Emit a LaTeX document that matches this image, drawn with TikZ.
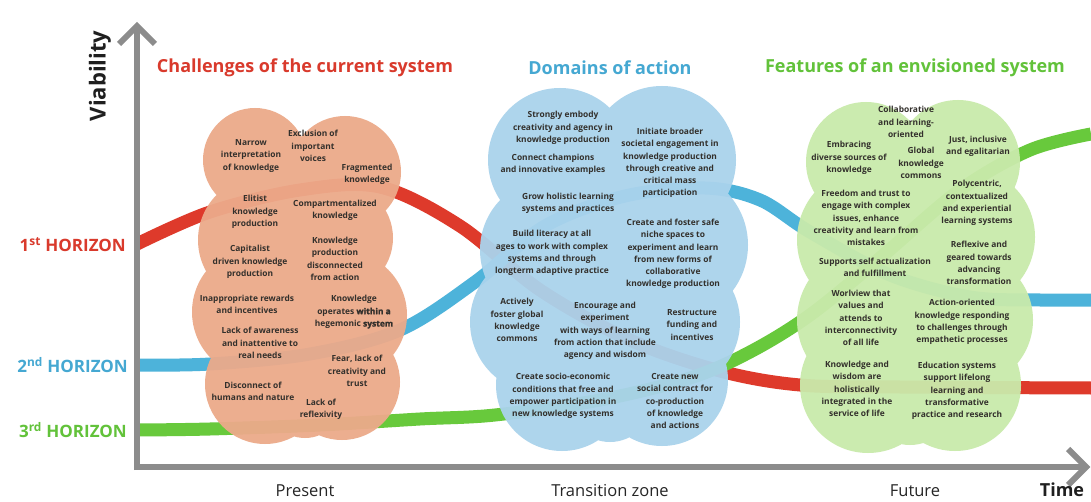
\documentclass[tikz,border=0pt]{standalone}
\usepackage{fontspec}
\setmainfont{Open Sans}
\definecolor{hred}{HTML}{DE3A2B}
\definecolor{hblue}{HTML}{4DB3DA}
\definecolor{hgreen}{HTML}{68C93C}
\definecolor{tred}{HTML}{D93A2C}
\definecolor{tblue}{HTML}{45A8D2}
\definecolor{tgreen}{HTML}{62C23A}
\definecolor{corange}{HTML}{ECAA8A}
\definecolor{cblue}{HTML}{AAD3EC}
\definecolor{cgreen}{HTML}{C9EAAB}
\definecolor{axisgray}{HTML}{8C8C8C}
\definecolor{txt}{HTML}{33302C}
\tikzset{
  horizon/.style={line width=13pt, line cap=butt},
  cloud/.style={opacity=0.95},
  ctext/.style={align=center, inner sep=0pt, text=txt, font=\bfseries\fontsize{8.4}{12.3}\selectfont},
  title/.style={inner sep=0pt, font=\bfseries\fontsize{18}{20}\selectfont},
  hlabel/.style={inner sep=0pt, anchor=east, font=\bfseries\fontsize{17}{19}\selectfont},
  blabel/.style={inner sep=0pt, anchor=base, font=\fontsize{16.5}{18}\selectfont, text=black!85},
  axisline/.style={draw=axisgray, line width=6pt, line join=miter},
}
\newcommand{\xb}[1]{{\addfontfeature{FakeBold=2}#1}}
\begin{document}
\begin{tikzpicture}[x=1pt,y=-1pt]
\useasboundingbox[fill=white] (0,0) rectangle (1091,502);

% horizon curves
\draw[horizon, hred] plot[smooth, tension=0.55] coordinates {(137,244) (210,212) (300,190) (380,187) (460,226) (540,290) (630,340) (720,371) (800,385) (900,387) (1091,388)};
\draw[horizon, hblue] plot[smooth, tension=0.55] coordinates {(137,365) (210,364) (310,354) (400,330) (475,282) (545,226) (625,196) (705,188) (760,200) (810,232) (890,275) (970,297) (1040,300) (1091,300)};
\draw[horizon, hgreen] plot[smooth, tension=0.55] coordinates {(137,430) (210,429) (320,425) (420,419) (495,415) (600,400) (690,378) (750,352) (810,315) (880,258) (960,190) (1030,150) (1091,134)};

% clouds
\fill[corange, cloud] (255,160) circle[radius=52pt] (345,172) circle[radius=56pt]
  (262,240) circle[radius=64pt] (338,238) circle[radius=55pt]
  (258,312) circle[radius=66pt] (343,315) circle[radius=64pt]
  (265,384) circle[radius=60pt] (342,382) circle[radius=58pt] (305,400) circle[radius=38pt];
\fill[cblue, cloud] (560,160) circle[radius=72pt] (662,160) circle[radius=74pt]
  (552,250) circle[radius=72pt] (672,245) circle[radius=76pt]
  (542,322) circle[radius=72pt] (670,322) circle[radius=70pt]
  (562,385) circle[radius=66pt] (662,380) circle[radius=66pt] (610,400) circle[radius=42pt];
\fill[cgreen, cloud] (866,162) circle[radius=60pt] (958,162) circle[radius=62pt]
  (870,240) circle[radius=73pt] (965,237) circle[radius=70pt]
  (870,320) circle[radius=73pt] (965,320) circle[radius=68pt]
  (868,385) circle[radius=68pt] (955,385) circle[radius=66pt] (910,400) circle[radius=45pt];

% axes
\coordinate (ytop) at (137,26);
\coordinate (xend) at (1086,467);
\draw[axisline] (137,470) -- (ytop);
\draw[axisline] (119,44) -- (ytop) -- (155,44);
\draw[axisline] (134,467) -- (xend);
\draw[axisline] (1068,449) -- (xend) -- (1068,485);

% axis labels
\node[inner sep=0pt, rotate=90, font=\bfseries\fontsize{22}{24}\selectfont, text=black!88] (via) at (100,76) {Viability};
\node[inner sep=0pt, anchor=base, font=\bfseries\fontsize{18}{20}\selectfont, text=black!88] (time) at (1062,496) {Time};
\node[blabel] (present) at (305,496) {Present};
\node[blabel] (trans) at (610,496) {Transition zone};
\node[blabel] (future) at (915,496) {Future};

% titles
\node[title, text=tred] (t1) at (305,68) {Challenges of the current system};
\node[title, text=tblue] (t2) at (610,68) {Domains of action};
\node[title, text=tgreen] (t3) at (915,68) {Features of an envisioned system};

% horizon labels
\node[hlabel, text=tred] (h1) at (126,245) {1\textsuperscript{st} HORIZON};
\node[hlabel, text=tblue] (h2) at (128,365) {2\textsuperscript{nd} HORIZON};
\node[hlabel, text=tgreen] (h3) at (127,430) {3\textsuperscript{rd} HORIZON};

% orange cloud texts
\node[ctext] (o1) at (251,156) {Narrow\\interpretation\\of knowledge};
\node[ctext] (o2) at (313,146) {Exclusion of\\important\\voices};
\node[ctext] (o3) at (367,174) {Fragmented\\knowledge};
\node[ctext] (o4) at (255,212) {Elitist\\knowledge\\production};
\node[ctext] (o5) at (335,210) {Compartmentalized\\knowledge};
\node[ctext] (o6) at (250,262) {Capitalist\\driven knowledge\\production};
\node[ctext] (o7) at (335,259) {Knowledge\\production\\disconnected\\from action};
\node[ctext] (o8) at (247,304) {Inappropriate rewards\\and incentives};
\node[ctext] (o9) at (354,312) {Knowledge\\operates \xb{within a}\\hegemonic \xb{system}};
\node[ctext] (o10) at (260,343) {Lack of awareness\\and inattentive to\\real needs};
\node[ctext] (o11) at (357,371) {Fear, lack of\\creativity and\\trust};
\node[ctext] (o12) at (253,391) {Disconnect of\\humans and nature};
\node[ctext] (o13) at (321,409) {Lack of\\reflexivity};

% blue cloud texts
\node[ctext] (b1) at (563,128) {Strongly embody\\creativity and agency in\\knowledge production};
\node[ctext] (b2) at (553,164) {Connect champions\\and innovative examples};
\node[ctext] (b3) at (670,163) {Initiate broader\\societal engagement in\\knowledge production\\through creative and\\critical mass\\participation};
\node[ctext] (b4) at (568,203) {Grow holistic learning\\systems and practices};
\node[ctext] (b5) at (552,253) {Build literacy at all\\ages to work with complex\\systems and through\\longterm adaptive practice};
\node[ctext] (b6) at (673,254) {Create and foster safe\\niche spaces to\\experiment and learn\\from new forms of\\collaborative\\knowledge production};
\node[ctext] (b7) at (517,320) {Actively\\foster global\\knowledge\\commons};
\node[ctext] (b8) at (605,331) {Encourage and\\experiment\\with ways of learning\\from action that include\\agency and wisdom};
\node[ctext] (b9) at (692,325) {Restructure\\funding and\\incentives};
\node[ctext] (b10) at (563,396) {Create socio-economic\\conditions that free and\\empower participation in\\new knowledge systems};
\node[ctext] (b11) at (675,401) {Create new\\social contract for\\co-production\\of knowledge\\and actions};

% green cloud texts
\node[ctext] (g1) at (906,122) {Collaborative\\and learning-\\oriented};
\node[ctext] (g2) at (849,158) {Embracing\\diverse sources of\\knowledge};
\node[ctext] (g3) at (921,163) {Global\\knowledge\\commons};
\node[ctext] (g4) at (978,146) {Just, inclusive\\and egalitarian};
\node[ctext] (g5) at (866,218) {Freedom and trust to\\engage with complex\\issues, enhance\\creativity and learn from\\mistakes};
\node[ctext] (g6) at (977,203) {Polycentric,\\contextualized\\and experiential\\learning systems};
\node[ctext] (g7) at (875,267) {Supports self actualization\\and fulfillment};
\node[ctext] (g8) at (979,263) {Reflexive and\\geared towards\\advancing\\transformation};
\node[ctext] (g9) at (861,318) {Worlview that\\values and\\attends to\\interconnectivity\\of all life};
\node[ctext] (g10) at (962,322) {Action-oriented\\knowledge responding\\to challenges through\\empathetic processes};
\node[ctext] (g11) at (857,389) {Knowledge and\\wisdom are\\holistically\\integrated in the\\service of life};
\node[ctext] (g12) at (957,391) {Education systems\\support lifelong\\learning and\\transformative\\practice and research};
\end{tikzpicture}
\end{document}
